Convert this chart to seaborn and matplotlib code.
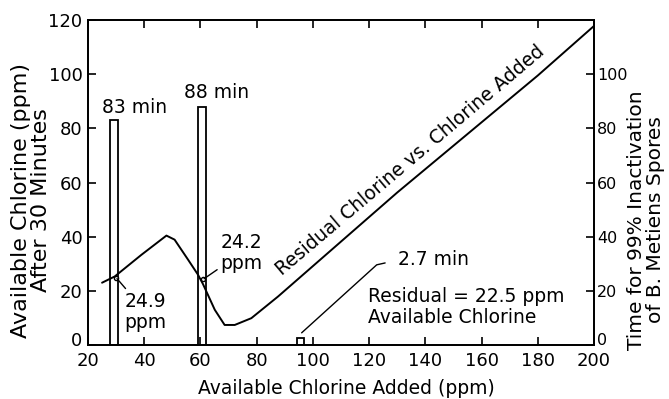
import matplotlib
matplotlib.use("Agg")
import matplotlib.pyplot as plt
import matplotlib.transforms as mtransforms
import seaborn as sns
import pandas as pd

# ---- data ----
added = [25, 29.5, 39, 47.9, 50.8, 55.6, 59.1, 60.9, 65.1, 68.6, 72.2, 78.1, 87.6, 130, 180, 200]
residual = [23.0, 25.3, 33.3, 40.4, 38.9, 31.5, 26.0, 22.5, 13.0, 7.4, 7.4, 9.9, 17.9, 56.3, 99.5, 117.8]

bar_added = [29.2, 60.6, 95.6]
bar_minutes = [83, 88, 2.7]
bar_labels = ["83 min", "88 min", "2.7 min"]

ppm_x = [30.0, 60.9]
ppm_y = [24.9, 24.2]

x_ticks = [20, 40, 60, 80, 100, 120, 140, 160, 180, 200]
left_ticks = [0, 20, 40, 60, 80, 100, 120]
right_ticks = [0, 20, 40, 60, 80, 100]

sns.set_theme(style="ticks")
plt.rcParams["font.family"] = ["DejaVu Sans"]
plt.rcParams["axes.linewidth"] = 1.3
for k in ("text.color", "axes.labelcolor", "xtick.color", "ytick.color", "axes.edgecolor"):
    plt.rcParams[k] = "black"

fig = plt.figure(figsize=(6.69, 3.99), dpi=100)
ax = fig.add_axes([88 / 669, 1 - 345 / 399, (594 - 88) / 669, (345 - 20) / 399])
ax2 = ax.twinx()

# bars (time for 99% inactivation, right axis)
df_bar = pd.DataFrame({"added": bar_added, "minutes": bar_minutes})
sns.barplot(data=df_bar, x="added", y="minutes", native_scale=True, width=2.8 / 31.4,
            color="white", saturation=1, edgecolor="black", linewidth=1.3, ax=ax2)

# residual line (left axis)
df_line = pd.DataFrame({"added": added, "residual": residual})
sns.lineplot(data=df_line, x="added", y="residual", color="black", linewidth=1.4,
             ax=ax, sort=False)

ax.set_zorder(ax2.get_zorder() + 1)
ax.patch.set_visible(False)

ax.set_xlim(20, 200)
ax.set_ylim(0, 120)
ax2.set_ylim(0, 120)
ax.set_xticks(x_ticks)
ax.set_yticks(left_ticks)
ax2.set_yticks(right_ticks)
ax.set_xticklabels([str(v) for v in x_ticks])
ax.set_yticklabels([str(v) for v in left_ticks])
ax2.set_yticklabels([str(v) for v in right_ticks])

ax.tick_params(axis="x", direction="in", length=6, width=1.2, top=True, labelsize=13,
               pad=5, colors="black")
ax.tick_params(axis="y", direction="in", length=6, width=1.2, labelsize=13, pad=4,
               colors="black")
ax2.tick_params(axis="y", direction="in", length=6, width=1.2, labelsize=11.5, pad=2,
                colors="black")

# lift the "0" labels a little, as in the original
lift = mtransforms.ScaledTranslation(0, 4 / 72, fig.dpi_scale_trans)
for lab in list(ax.get_yticklabels()) + list(ax2.get_yticklabels()):
    if lab.get_text() == "0":
        lab.set_transform(lab.get_transform() + lift)

for a in (ax, ax2):
    for s in a.spines.values():
        s.set_visible(True)
        s.set_color("black")
        s.set_linewidth(1.3)

ax.set_xlabel("Available Chlorine Added (ppm)", fontsize=13.5, va="center", color="black")
ax.xaxis.set_label_coords(0.51, -0.133)
ax.set_ylabel("Available Chlorine (ppm)\nAfter 30 Minutes", fontsize=16,
              va="center", ha="center", linespacing=1.0, color="black")
ax.yaxis.set_label_coords(-0.112, 0.446)
ax2.set_ylabel("Time for 99% Inactivation\nof B. Metiens Spores", fontsize=14.5,
               va="center", ha="center", rotation=90, linespacing=1.05, color="black")
ax2.yaxis.set_label_coords(1.103, 0.385)

# bar labels
ax.text(36.4, 87.8, bar_labels[0], fontsize=13.5, ha="center", va="center")
ax.text(65.6, 93.2, bar_labels[1], fontsize=13.5, ha="center", va="center")
ax.text(130.4, 31.5, bar_labels[2], fontsize=13.5, ha="left", va="center")
ax.plot([96, 122.7, 125.7], [4.5, 29.6, 30.3], color="black", linewidth=1.0)

# ppm annotations
ax.plot(ppm_x, ppm_y, linestyle="none", marker="o", markersize=3,
        markerfacecolor="white", markeredgecolor="black", markeredgewidth=1)
ax.annotate("24.9\nppm", xy=(ppm_x[0], ppm_y[0]), xytext=(40.5, 12.2), fontsize=13.5,
            ha="center", va="center", linespacing=1.15,
            arrowprops=dict(arrowstyle="-", color="black", lw=1.0, shrinkA=14, shrinkB=1))
ax.annotate("24.2\nppm", xy=(ppm_x[1], ppm_y[1]), xytext=(74.6, 34.0), fontsize=13.5,
            ha="center", va="center", linespacing=1.15,
            arrowprops=dict(arrowstyle="-", color="black", lw=1.0, shrinkA=14, shrinkB=1))

ax.text(119.7, 14.0, "Residual = 22.5 ppm\nAvailable Chlorine", fontsize=13.5,
        ha="left", va="center", linespacing=1.15)

ax.text(134.6, 68.0, "Residual Chlorine vs. Chlorine Added", fontsize=13.5,
        ha="center", va="center", rotation=40.2, rotation_mode="anchor")

fig.savefig("out.png", dpi=100)
